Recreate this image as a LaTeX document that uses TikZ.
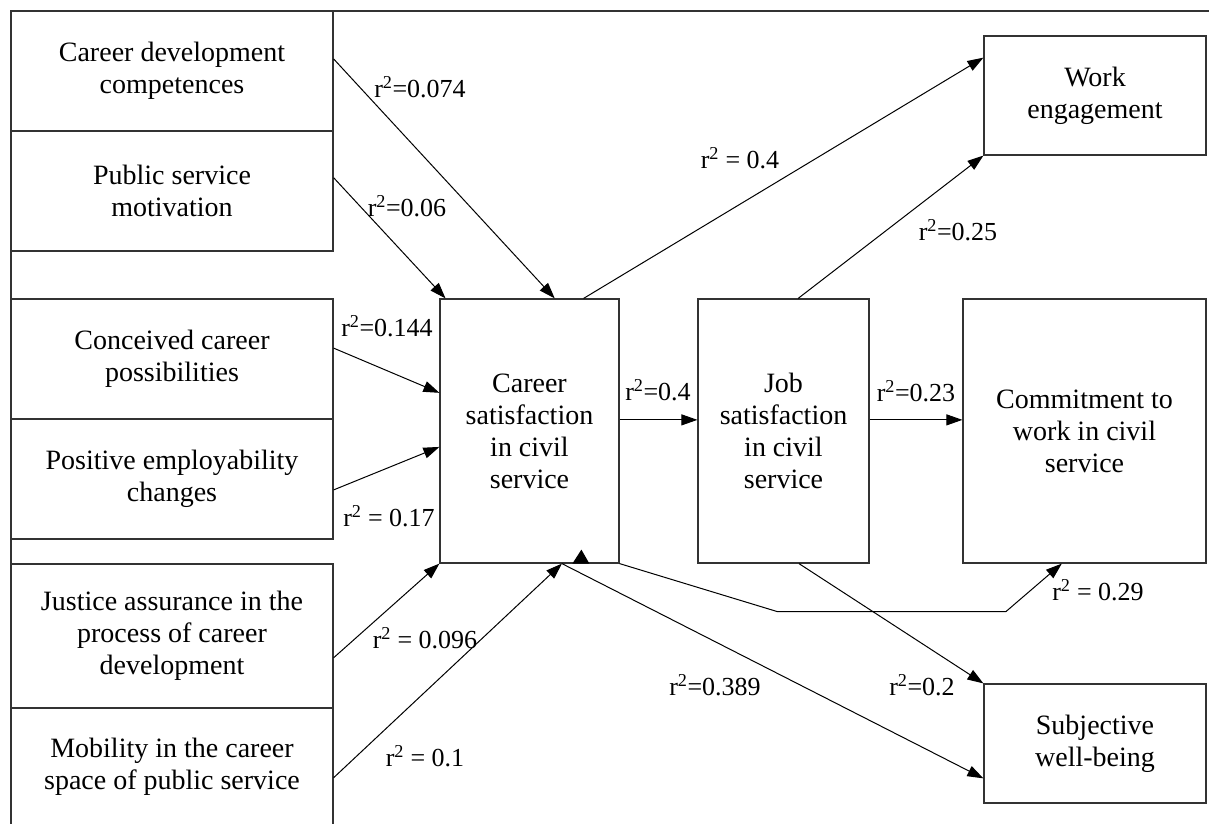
\documentclass[tikz,border=0pt]{standalone}
\usepackage{fontspec}
\setmainfont{Liberation Serif}
\usetikzlibrary{arrows.meta,calc}
\begin{document}
\begin{tikzpicture}[x=1pt,y=-1pt,
  box/.style={draw=black!80,line width=1.2pt,align=center,inner sep=0pt,font=\fontsize{28}{32}\selectfont},
  lab/.style={inner sep=0pt,font=\fontsize{26}{30}\selectfont},
  arr/.style={line width=1pt,-{Triangle[length=16pt,width=11pt]}},
  ln/.style={line width=1pt}]
\useasboundingbox (0,0) rectangle (1209,823);
\clip (0,0) rectangle (1209,823);
% frame
\draw[draw=black!80,line width=1.2pt] (1209,11) -- (11,11) -- (11,823);
% left boxes
\node[box,minimum width=322pt,minimum height=120pt] (b1) at (172,71) {Career development\\competences};
\node[box,minimum width=322pt,minimum height=120pt] (b2) at (172,191) {Public service\\motivation};
\node[box,minimum width=322pt,minimum height=120pt] (b3) at (172,359) {Conceived career\\possibilities};
\node[box,minimum width=322pt,minimum height=120pt] (b4) at (172,479) {Positive employability\\changes};
\node[box,minimum width=322pt,minimum height=144pt] (b5) at (172,636) {Justice assurance in the\\process of career\\development};
\node[box,minimum width=322pt,minimum height=118pt] (b6) at (172,767) {Mobility in the career\\space of public service};
% middle boxes
\node[box,minimum width=179pt,minimum height=264pt] (cs) at (529.5,431) {Career\\satisfaction\\in civil\\service};
\node[box,minimum width=171pt,minimum height=264pt] (js) at (783.5,431) {Job\\satisfaction\\in civil\\service};
% right boxes
\node[box,minimum width=243pt,minimum height=264pt] (cm) at (1084.5,431) {Commitment to\\work in civil\\service};
\node[box,minimum width=222pt,minimum height=119pt] (we) at (1095,95.5) {Work\\engagement};
\node[box,minimum width=222pt,minimum height=119pt] (sw) at (1095,743.5) {Subjective\\well-being};
% connectors
\draw[arr] ($(b1.north east)!0.4!(b1.south east)$) -- ($(cs.north west)!0.64!(cs.north east)$);
\draw[arr] ($(b2.north east)!0.39!(b2.south east)$) -- ($(cs.north west)!0.034!(cs.north east)$);
\draw[arr] ($(cs.north west)!0.8!(cs.north east)$) -- ($(we.north west)!0.185!(we.south west)$);
\draw[arr] ($(js.north west)!0.585!(js.north east)$) -- (we.south west);
\draw[arr] ($(b3.north east)!0.41!(b3.south east)$) -- ($(cs.north west)!0.356!(cs.south west)$);
\draw[arr] ($(b4.north east)!0.59!(b4.south east)$) -- ($(cs.north west)!0.56!(cs.south west)$);
\draw[arr] ($(cs.north east)!0.458!(cs.south east)$) -- ($(js.north west)!0.458!(js.south west)$);
\draw[arr] ($(js.north east)!0.458!(js.south east)$) -- ($(cm.north west)!0.458!(cm.south west)$);
\draw[arr] ($(b5.north east)!0.65!(b5.south east)$) -- (cs.south west);
\draw[arr] ($(b6.north east)!0.59!(b6.south east)$) -- ($(cs.south west)!0.68!(cs.south east)$);
\draw[arr] ($(cs.south west)!0.68!(cs.south east)$) -- ($(sw.north west)!0.79!(sw.south west)$);
\coordinate (k1) at (777,611.5);
\coordinate (k2) at (1006,611.5);
\draw[arr] (cs.south east) -- (k1) -- (k2) -- ($(cm.south west)!0.407!(cm.south east)$);
\draw[arr] ($(js.south west)!0.59!(js.south east)$) -- (sw.north west);
% stray arrowhead
\fill ($(cs.south west)+(142,-14)$) -- ++(-9,14) -- ++(17,0) -- cycle;
% labels
\node[lab] (l1) at (420,87) {r\textsuperscript{2}=0.074};
\node[lab] (l2) at (407,206) {r\textsuperscript{2}=0.06};
\node[lab] (l3) at (740,158) {r\textsuperscript{2} = 0.4};
\node[lab] (l4) at (958,230) {r\textsuperscript{2}=0.25};
\node[lab] (l5) at (387,326) {r\textsuperscript{2}=0.144};
\node[lab] (l6) at (389,516) {r\textsuperscript{2} = 0.17};
\node[lab] (l7) at (658,390) {r\textsuperscript{2}=0.4};
\node[lab] (l8) at (916,391) {r\textsuperscript{2}=0.23};
\node[lab] (l9) at (1098,590) {r\textsuperscript{2} = 0.29};
\node[lab] (l10) at (922,685) {r\textsuperscript{2}=0.2};
\node[lab] (l11) at (715,685) {r\textsuperscript{2}=0.389};
\node[lab] (l12) at (425,638) {r\textsuperscript{2} = 0.096};
\node[lab] (l13) at (425,756) {r\textsuperscript{2} = 0.1};
\end{tikzpicture}
\end{document}
